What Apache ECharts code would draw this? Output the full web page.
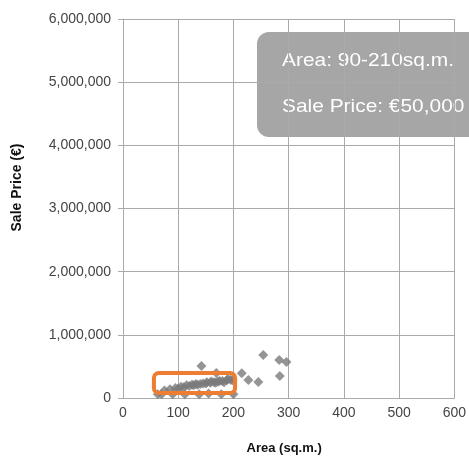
<!DOCTYPE html>
<html><head><meta charset="utf-8">
<script src="https://cdn.jsdelivr.net/npm/echarts@6/dist/echarts.min.js"></script>
<style>html,body{margin:0;padding:0;background:#fff}#c{width:469px;height:460px}</style>
</head><body><div id="c"></div>
<script>
// Data
const areas = [63, 90, 75, 100, 110, 120, 128, 135, 140, 150, 158, 165, 172, 180, 188, 195,
  85, 95, 105, 115, 125, 132, 145, 152, 160, 168, 175, 183, 190, 198,
  70, 112, 138, 155, 178, 200, 142, 169, 215, 227, 245, 254, 283, 296, 284];
const prices = [60000, 60000, 120000, 150000, 170000, 190000, 200000, 210000, 220000, 230000, 240000, 250000, 260000, 270000, 280000, 290000,
  140000, 160000, 180000, 200000, 210000, 220000, 230000, 250000, 260000, 240000, 270000, 250000, 300000, 280000,
  60000, 60000, 60000, 70000, 60000, 60000, 506000, 395000, 390000, 285000, 253000, 680000, 600000, 570000, 348000];
const xTicks = [0, 100, 200, 300, 400, 500, 600];
const yTicks = [0, 1000000, 2000000, 3000000, 4000000, 5000000, 6000000];
const highlightArea = [56, 203];
const highlightPrice = [79000, 396000];
const noteLines = ['Area: 90-210sq.m.', 'Sale Price: €50,000'];

const points = areas.map((a, i) => [a, prices[i]]);
const fmt = v => v.toLocaleString('en-US');
const font = 'Liberation Sans, Arial, sans-serif';

const chart = echarts.init(document.getElementById('c'));
chart.setOption({
  animation: false,
  grid: { left: 123, right: 13, top: 19, bottom: 62 },
  xAxis: {
    type: 'value', min: xTicks[0], max: xTicks[xTicks.length - 1], interval: 100,
    name: 'Area (sq.m.)', nameLocation: 'middle', nameGap: 44,
    nameTextStyle: { fontWeight: 'bold', fontSize: 13, color: '#111', fontFamily: font, padding: [0, 9, 0, 0] },
    axisLine: { show: true, lineStyle: { color: '#aaa' } },
    axisTick: { show: false },
    axisLabel: { color: '#444', fontSize: 14, fontFamily: font, margin: 8 },
    splitLine: { show: true, lineStyle: { color: '#aaa', width: 1 } }
  },
  yAxis: {
    type: 'value', min: yTicks[0], max: yTicks[yTicks.length - 1], interval: 1000000,
    name: 'Sale Price (€)', nameLocation: 'middle', nameGap: 99,
    nameTextStyle: { fontWeight: 'bold', fontSize: 14, color: '#111', fontFamily: font, padding: [0, 0, 0, 42] },
    axisLine: { show: true, lineStyle: { color: '#aaa' } },
    axisTick: { show: true, inside: false, length: 5, lineStyle: { color: '#aaa' } },
    axisLabel: { color: '#444', fontSize: 14, fontFamily: font, margin: 12, formatter: v => fmt(v) },
    splitLine: { show: true, lineStyle: { color: '#aaa', width: 1 } }
  },
  series: [
    {
      type: 'scatter', data: points, symbol: 'diamond', symbolSize: 10,
      itemStyle: { color: '#7a7a7a' }, z: 2
    },
    {
      type: 'custom', z: 3,
      data: [[highlightArea[0], highlightPrice[0], highlightArea[1], highlightPrice[1]]],
      renderItem: (params, api) => {
        const p1 = api.coord([api.value(0), api.value(3)]);
        const p2 = api.coord([api.value(2), api.value(1)]);
        return {
          type: 'rect',
          shape: { x: p1[0], y: p1[1], width: p2[0] - p1[0], height: p2[1] - p1[1], r: 5 },
          style: { fill: 'none', stroke: '#ED7D31', lineWidth: 4 }
        };
      }
    }
  ],
  graphic: [
    {
      type: 'group', left: 257, top: 32, z: 10,
      children: [
        { type: 'rect', shape: { x: 0, y: 0, width: 240, height: 105, r: 12 }, style: { fill: '#a6a6a6' } },
        { type: 'text', x: 25, y: 29, scaleX: 1.1, style: { text: noteLines[0], fill: '#fff', font: '19px ' + font, verticalAlign: 'middle' } },
        { type: 'text', x: 25, y: 75, scaleX: 1.1, style: { text: noteLines[1], fill: '#fff', font: '19px ' + font, verticalAlign: 'middle' } }
      ]
    }
  ]
});
</script></body></html>
